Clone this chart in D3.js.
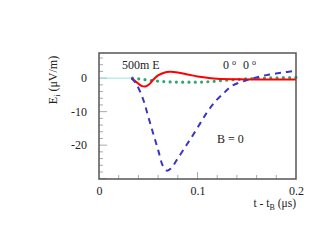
<!DOCTYPE html>
<html>
<head>
<meta charset="utf-8">
<script src="https://cdn.jsdelivr.net/npm/d3@7"></script>
<style>
  body { margin: 0; background: #fff; }
  text { font-family: "Liberation Serif", "DejaVu Serif", serif; fill: #222; }
</style>
</head>
<body>
<script>
// ---------------------------------------------------------------
// data (t in microseconds, E in uV/m)
// ---------------------------------------------------------------
var x_ticks = [0, 0.1, 0.2];
var y_ticks = [0, -10, -20];

var base_t = [0, 0.033];
var base_e = [0, 0];

var red_t = [0.033, 0.038, 0.043, 0.047, 0.051, 0.055, 0.060, 0.066, 0.072, 0.080, 0.090, 0.100, 0.110, 0.120, 0.140, 0.170, 0.200];
var red_e = [0, -1.2, -2.3, -2.5, -1.8, -0.5, 0.8, 1.6, 1.9, 1.7, 1.1, 0.5, 0.1, -0.2, -0.35, -0.4, -0.4];

var blue_t = [0.033, 0.038, 0.045, 0.050, 0.055, 0.060, 0.065, 0.069, 0.073, 0.079, 0.089, 0.099, 0.109, 0.118, 0.128, 0.135, 0.146, 0.156, 0.170, 0.185, 0.200];
var blue_e = [0, -1.8, -6.5, -11.5, -16.5, -21.4, -26.3, -27.6, -27.0, -24.4, -19.9, -15.3, -10.5, -7.0, -4.1, -2.3, -1.0, -0.1, 0.9, 1.6, 2.2];

var green_t = [0.034, 0.040, 0.050, 0.060, 0.070, 0.085, 0.100, 0.115, 0.130, 0.145, 0.160, 0.180, 0.200];
var green_e = [0, -0.2, -0.6, -0.9, -1.1, -1.2, -1.2, -1.0, -0.6, -0.3, -0.1, 0.1, 0.2];

// ---------------------------------------------------------------
var W = 334, H = 250;
var margin = {top: 53, right: 38, bottom: 71, left: 99};
var width = W - margin.left - margin.right;
var height = H - margin.top - margin.bottom;

var x = d3.scaleLinear().domain([0, 0.2]).range([0, width]);
var y = d3.scaleLinear().domain([-30.1, 7.5]).range([height, 0]);

var svg = d3.select("body").append("svg")
    .attr("width", W)
    .attr("height", H)
  .append("g")
    .attr("transform", "translate(" + margin.left + "," + margin.top + ")");

// minor + major ticks (drawn inward, gray)
svg.append("g").selectAll("line")
    .data(d3.range(0.02, 0.2, 0.02))
  .enter().append("line")
    .attr("x1", function(d) { return x(d); })
    .attr("x2", function(d) { return x(d); })
    .attr("y1", height)
    .attr("y2", function(d) { return Math.abs(d - 0.1) < 1e-6 ? height - 7 : height - 4; })
    .style("stroke", "#aaa");

svg.append("g").selectAll("line")
    .data(d3.range(-30, 7, 2))
  .enter().append("line")
    .attr("x1", 0)
    .attr("x2", function(d) { return d % 10 == 0 ? 8 : 4; })
    .attr("y1", function(d) { return y(d); })
    .attr("y2", function(d) { return y(d); })
    .style("stroke", "#aaa");

// axis labels via d3 axes (tick lines hidden), plain hyphen for minus
var xAxis = svg.append("g")
    .attr("transform", "translate(0," + height + ")")
    .attr("font-family", null)
    .call(d3.axisBottom(x).tickValues(x_ticks).tickSize(0).tickPadding(7).tickFormat(function(d) { return String(d); }));
xAxis.select(".domain").remove();
xAxis.selectAll("text").style("font-size", "12px").style("font-family", "Liberation Serif");

var yAxis = svg.append("g")
    .call(d3.axisLeft(y).tickValues(y_ticks).tickSize(0).tickPadding(12).tickFormat(function(d) { return String(d); }));
yAxis.select(".domain").remove();
yAxis.selectAll("text").style("font-size", "12px").style("font-family", "Liberation Serif");

// ---------------------------------------------------------------
// curves
var line = d3.line()
    .x(function(d) { return x(d[0]); })
    .y(function(d) { return y(d[1]); })
    .curve(d3.curveMonotoneX);

function pairs(t, e) { return t.map(function(v, i) { return [v, e[i]]; }); }

svg.append("path").datum(pairs(base_t, base_e))
    .attr("d", line).attr("fill", "none")
    .style("stroke", "#9fe3e3").style("stroke-width", 1);

svg.append("path").datum(pairs(green_t, green_e))
    .attr("d", line).attr("fill", "none")
    .style("stroke", "#2fa872").style("stroke-width", 3.2)
    .style("stroke-linecap", "round").style("stroke-dasharray", "0,6.3");

svg.append("path").datum(pairs(red_t, red_e))
    .attr("d", line.curve(d3.curveCatmullRom)).attr("fill", "none")
    .style("stroke", "#f00").style("stroke-width", 2);

svg.append("path").datum(pairs(blue_t, blue_e))
    .attr("d", line.curve(d3.curveCatmullRom)).attr("fill", "none")
    .style("stroke", "#3a36c4").style("stroke-width", 2)
    .style("stroke-dasharray", "6,5");

// frame
svg.append("rect")
    .attr("width", width).attr("height", height)
    .attr("fill", "none")
    .style("stroke", "#555").style("stroke-width", 1.5);

// ---------------------------------------------------------------
// texts
svg.append("text")
    .attr("x", 122 - margin.left).attr("y", 68.5 - margin.top)
    .style("font-size", "12px")
    .text("500m E");

var ang = svg.append("text")
    .attr("x", 223 - margin.left).attr("y", 68.5 - margin.top)
    .style("font-size", "12px");
ang.append("tspan").text("0");
ang.append("tspan").attr("dx", 3).attr("dy", -4).style("font-size", "8px").text("o");
ang.append("tspan").attr("dx", 7).attr("dy", 4).text("0");
ang.append("tspan").attr("dx", 3).attr("dy", -4).style("font-size", "8px").text("o");

svg.append("text")
    .attr("x", 217 - margin.left).attr("y", 142.5 - margin.top)
    .style("font-size", "12px")
    .text("B = 0");

var xl = svg.append("text")
    .attr("x", width).attr("y", 207 - margin.top)
    .attr("text-anchor", "end")
    .style("font-size", "11.5px");
xl.append("tspan").text("t - t");
xl.append("tspan").attr("dy", 3).style("font-size", "8px").text("B");
xl.append("tspan").attr("dy", -3).text(" (\u03bcs)");

var yl = svg.append("text")
    .attr("transform", "translate(" + (57 - margin.left) + "," + (80 - margin.top) + ") rotate(-90)")
    .attr("text-anchor", "middle")
    .style("font-size", "12px");
yl.append("tspan").text("E");
yl.append("tspan").attr("dy", 3).style("font-size", "8px").text("i");
yl.append("tspan").attr("dy", -3).text("  (\u03bcV/m)");
</script>
</body>
</html>
